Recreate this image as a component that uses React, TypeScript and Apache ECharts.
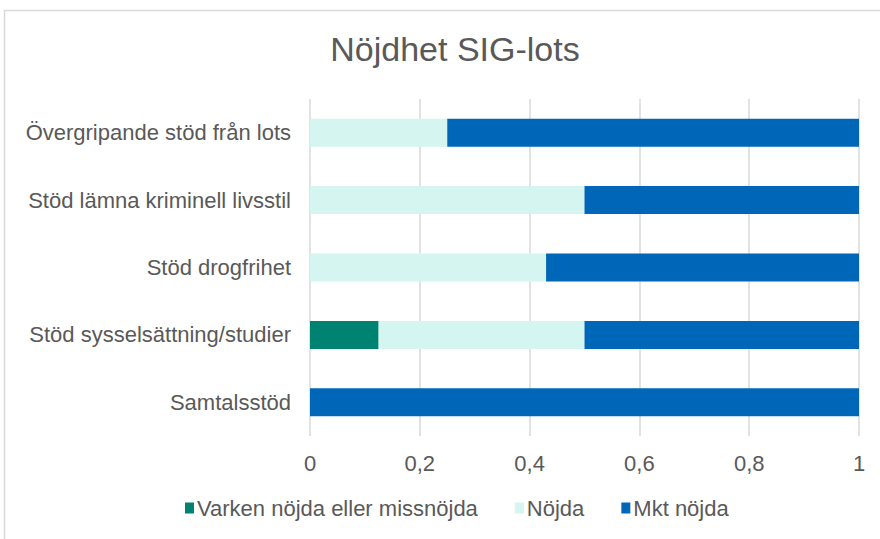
import React, { useEffect, useRef } from "react";
import * as echarts from "echarts";

const categories = [
  "Övergripande stöd från lots",
  "Stöd lämna kriminell livsstil",
  "Stöd drogfrihet",
  "Stöd sysselsättning/studier",
  "Samtalsstöd",
];
const seriesNames = ["Varken nöjda eller missnöjda", "Nöjda", "Mkt nöjda"];
const varkenValues = [0, 0, 0, 0.125, 0];
const nojdaValues = [0.25, 0.5, 0.43, 0.375, 0];
const mktValues = [0.75, 0.5, 0.57, 0.5, 1];
const colors = ["#008272", "#d5f5f1", "#0067b8"];

export default function App() {
  const ref = useRef<HTMLDivElement>(null);
  useEffect(() => {
    document.body.style.margin = "0";
    const chart = echarts.init(ref.current!, undefined, { renderer: "svg" });
    const font = "'Liberation Sans', Arial, sans-serif";
    const mk = (name: string, data: number[], color: string) => ({
      name,
      type: "bar",
      stack: "total",
      data,
      barWidth: 28,
      itemStyle: { color },
      emphasis: { disabled: true },
    });
    chart.setOption({
      animation: false,
      textStyle: { fontFamily: font },
      graphic: [
        {
          type: "rect",
          shape: { x: 4.5, y: 10.5, width: 900, height: 560 },
          style: { fill: "none", stroke: "#d9d9d9", lineWidth: 1.5 },
          silent: true,
        },
      ],
      title: {
        text: "Nöjdhet SIG-lots",
        left: 450,
        textAlign: "center",
        top: 27,
        textStyle: { fontFamily: font, fontSize: 34, fontWeight: "normal", color: "#595959" },
      },
      legend: {
        top: 492,
        left: 180,
        itemWidth: 9,
        itemHeight: 11,
        itemGap: 37,
        icon: "rect",
        data: seriesNames,
        textStyle: { fontFamily: font, fontSize: 22, color: "#595959", padding: [0, 0, 0, -2] },
      },
      grid: { left: 310, right: 21, top: 99, bottom: 103 },
      xAxis: {
        type: "value",
        min: 0,
        max: 1,
        interval: 0.2,
        axisLine: { show: false },
        axisTick: { show: false },
        splitLine: { lineStyle: { color: "#d9d9d9", width: 1.5 } },
        axisLabel: {
          fontFamily: font,
          fontSize: 22,
          color: "#595959",
          margin: 16,
          formatter: (v: number) => String(Math.round(v * 10) / 10).replace(".", ","),
        },
      },
      yAxis: {
        type: "category",
        inverse: true,
        data: categories,
        axisLine: { show: false },
        axisTick: { show: false },
        axisLabel: { fontFamily: font, fontSize: 22, color: "#595959", margin: 19 },
      },
      series: [
        mk(seriesNames[0], varkenValues, colors[0]),
        mk(seriesNames[1], nojdaValues, colors[1]),
        mk(seriesNames[2], mktValues, colors[2]),
      ],
    });
    return () => chart.dispose();
  }, []);
  return <div ref={ref} style={{ width: 880, height: 539 }} />;
}
